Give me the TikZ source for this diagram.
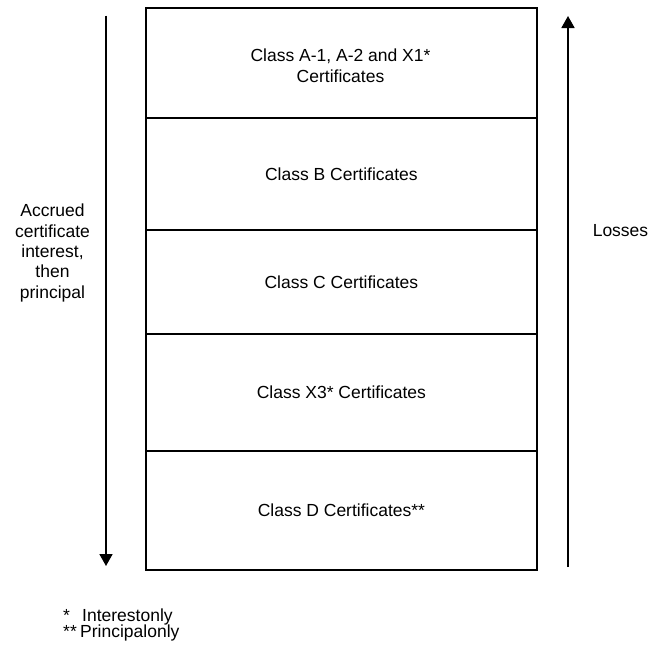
\documentclass[tikz,border=0pt]{standalone}
\usepackage{fontspec}
\setmainfont{Liberation Sans}
\usetikzlibrary{arrows.meta}
\begin{document}
\begin{tikzpicture}[x=1pt,y=-1pt,
  lbl/.style={font=\fontsize{17.5}{21}\selectfont, inner sep=0pt, align=center},
  sect/.style={draw=black, line width=1.8pt, minimum width=391pt, inner sep=0pt, anchor=north west},
  flow/.style={line width=1.8pt, -{Triangle[width=13pt,length=12pt]}}]
\useasboundingbox (0,0) rectangle (654,645);
% sections
\node[sect, minimum height=110pt] (s1) at (145,7) {};
\node[sect, minimum height=112pt] (s2) at (145,117) {};
\node[sect, minimum height=104pt] (s3) at (145,229) {};
\node[sect, minimum height=117pt] (s4) at (145,333) {};
\node[sect, minimum height=119pt] (s5) at (145,450) {};
\node[lbl] (t1) at (340.5,65.5) {Class A-1, A-2 and X1*\\Certificates};
\node[lbl] (t2) at (s2.center) {Class B Certificates};
\node[lbl] (t3) at (s3.center) {Class C Certificates};
\node[lbl] (t4) at (s4.center) {Class X3* Certificates};
\node[lbl] (t5) at (s5.center) {Class D Certificates**};
% arrows
\coordinate (la) at (106,15.7);
\coordinate (lb) at (106,566);
\coordinate (ra) at (568,567);
\coordinate (rb) at (568,16);
\draw[flow] (la) -- (lb);
\draw[flow] (ra) -- (rb);
\node[lbl, font=\fontsize{17.5}{20.4}\selectfont] (left) at (52.5,253) {Accrued\\certificate\\interest,\\then\\principal};
\node[lbl] (loss) at (620.5,231) {Losses};
% footnotes
\node[lbl, anchor=base west] (f1s) at (63,621) {*};
\node[lbl, anchor=base west] (f1) at (82,621) {Interestonly};
\node[lbl, anchor=base west] (f2s) at (63,637) {**};
\node[lbl, anchor=base west] (f2) at (80,637) {Principalonly};
\end{tikzpicture}
\end{document}
